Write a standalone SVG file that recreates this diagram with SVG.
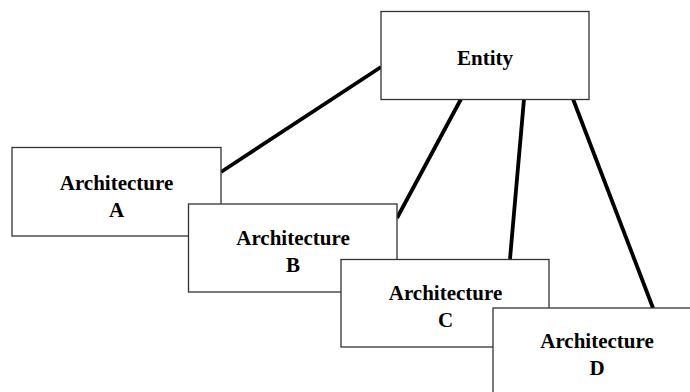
<svg xmlns="http://www.w3.org/2000/svg" width="690" height="392" viewBox="0 0 690 392">
<style>
.box{fill:#fff;stroke:#333;stroke-width:1.3}
.lbl{font-family:"Liberation Serif","Times New Roman",serif;font-weight:bold;font-size:21px;fill:#000;text-anchor:middle}
.ent{font-size:21px}
.conn line{stroke:#000;stroke-width:3.8;stroke-linecap:butt}
</style>
<rect width="690" height="392" fill="#fff"/>
<g id="connectors" class="conn">
<line x1="381" y1="67" x2="221" y2="172"/>
<line x1="461" y1="99" x2="397" y2="218"/>
<line x1="524" y1="99" x2="510" y2="259"/>
<line x1="573" y1="99" x2="653" y2="308"/>
</g>
<g id="entity">
<rect class="box" x="381" y="11.5" width="208" height="88"/>
<text class="lbl ent" x="485" y="65">Entity</text>
</g>
<g id="archA">
<rect class="box" x="12" y="147.5" width="209" height="88.5"/>
<text class="lbl" x="116.5" y="190">Architecture</text>
<text class="lbl" x="116.5" y="217">A</text>
</g>
<g id="archB">
<rect class="box" x="188.5" y="204" width="208.5" height="88"/>
<text class="lbl" x="293" y="245">Architecture</text>
<text class="lbl" x="293" y="272">B</text>
</g>
<g id="archC">
<rect class="box" x="341" y="259.5" width="208" height="87.5"/>
<text class="lbl" x="445.5" y="300">Architecture</text>
<text class="lbl" x="445.5" y="327">C</text>
</g>
<g id="archD">
<rect class="box" x="493" y="308" width="210" height="90"/>
<text class="lbl" x="597" y="348">Architecture</text>
<text class="lbl" x="597" y="375">D</text>
</g>
</svg>
